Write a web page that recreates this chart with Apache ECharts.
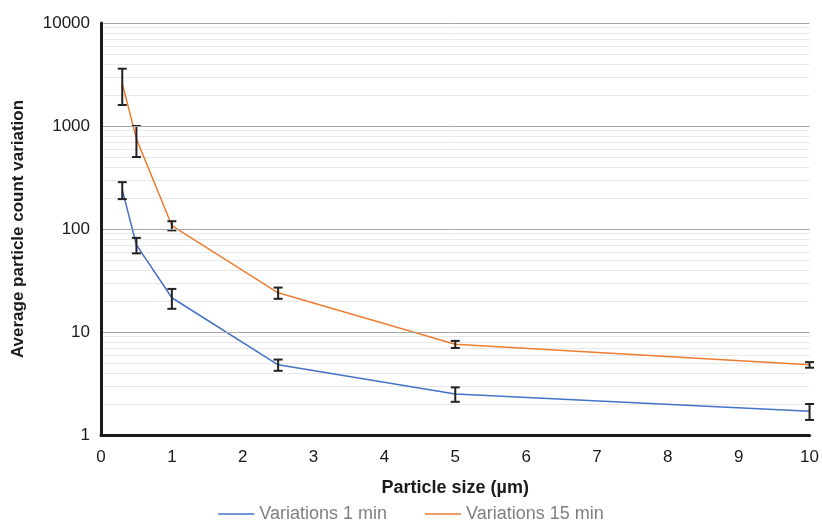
<!DOCTYPE html>
<html>
<head>
<meta charset="utf-8">
<script src="https://cdn.jsdelivr.net/npm/echarts@6/dist/echarts.min.js"></script>
<style>
  html, body { margin: 0; padding: 0; background: #fff; }
</style>
</head>
<body>
<div id="box" style="width: 822px; height: 522px;"></div>
<script>
// particle sizes (µm)
var sizes = [0.3, 0.5, 1, 2.5, 5, 10];
// mean variation and error (±)
var var1min = [240, 70, 21.5, 4.8, 2.5, 1.7];
var err1min = [45, 12, 4.7, 0.6, 0.4, 0.3];
var var15min = [2600, 750, 108, 24, 7.6, 4.8];
var err15min = [1000, 250, 11, 3, 0.6, 0.3];
var yTicks = [1, 10, 100, 1000, 10000];
// minor grid positions on the log axis
var minorLines = [];
[1, 10, 100, 1000].forEach(function (d) {
  for (var k = 2; k <= 9; k++) minorLines.push(d * k);
});

function pairs(xs, ys) {
  return xs.map(function (x, i) { return [x, ys[i]]; });
}
function errData(xs, ys, es) {
  return xs.map(function (x, i) { return [x, ys[i] - es[i], ys[i] + es[i]]; });
}

function renderErr(params, api) {
  var x = api.value(0);
  var lo = api.coord([x, api.value(1)]);
  var hi = api.coord([x, api.value(2)]);
  var hw = 4.5;
  var style = { stroke: '#222', lineWidth: 2 };
  return {
    type: 'group',
    children: [
      { type: 'line', shape: { x1: hi[0], y1: hi[1], x2: lo[0], y2: lo[1] }, style: style },
      { type: 'line', shape: { x1: hi[0] - hw, y1: hi[1], x2: hi[0] + hw, y2: hi[1] }, style: style },
      { type: 'line', shape: { x1: lo[0] - hw, y1: lo[1], x2: lo[0] + hw, y2: lo[1] }, style: style }
    ]
  };
}

var myChart = echarts.init(document.getElementById('box'));
var option = {
  animation: false,
  textStyle: { fontFamily: 'Liberation Sans, Arial, sans-serif' },
  grid: { left: 101, right: 12, top: 23, bottom: 87 },
  legend: {
    bottom: -6,
    left: 'center',
    icon: 'rect',
    itemWidth: 36,
    itemHeight: 1.5,
    itemGap: 38,
    textStyle: { color: '#7f7f7f', fontSize: 18 },
    data: ['Variations 1 min', 'Variations 15 min']
  },
  xAxis: {
    type: 'value',
    min: 0,
    max: 10,
    interval: 1,
    z: 5,
    name: 'Particle size (µm)',
    nameLocation: 'middle',
    nameGap: 44,
    nameTextStyle: { fontWeight: 'bold', fontSize: 18, color: '#1a1a1a' },
    axisLine: { lineStyle: { color: '#1a1a1a', width: 3 } },
    axisTick: { show: false },
    axisLabel: { color: '#1a1a1a', fontSize: 17, margin: 14 },
    splitLine: { show: false }
  },
  yAxis: {
    type: 'log',
    logBase: 10,
    min: 1,
    max: 10000,
    z: 5,
    name: 'Average particle count variation',
    nameLocation: 'middle',
    nameGap: 74,
    nameTextStyle: { fontWeight: 'bold', fontSize: 17, color: '#1a1a1a' },
    axisLine: { show: true, lineStyle: { color: '#1a1a1a', width: 3 } },
    axisTick: { show: false },
    minorTick: { show: false },
    axisLabel: {
      color: '#1a1a1a', fontSize: 17, margin: 11,
      formatter: function (v) { return yTicks.indexOf(Math.round(v)) >= 0 ? String(Math.round(v)) : ''; }
    },
    splitLine: { lineStyle: { color: '#a6a6a6', width: 1 } }
  },
  series: [
    {
      name: 'minor',
      type: 'line',
      data: [],
      silent: true,
      z: 0,
      markLine: {
        silent: true,
        symbol: 'none',
        z: 0,
        label: { show: false },
        lineStyle: { color: '#e8e8e8', width: 1, type: 'solid' },
        data: minorLines.map(function (v) { return { yAxis: v }; })
      }
    },
    {
      name: 'Variations 1 min',
      type: 'line',
      data: pairs(sizes, var1min),
      symbol: 'none',
      color: '#4472c4',
      lineStyle: { width: 1.5 },
      z: 3
    },
    {
      name: 'Variations 15 min',
      type: 'line',
      data: pairs(sizes, var15min),
      symbol: 'none',
      color: '#ed7d31',
      lineStyle: { width: 1.5 },
      z: 3
    },
    {
      name: 'err1',
      type: 'custom',
      renderItem: renderErr,
      data: errData(sizes, var1min, err1min),
      z: 4
    },
    {
      name: 'err15',
      type: 'custom',
      renderItem: renderErr,
      data: errData(sizes, var15min, err15min),
      z: 4
    }
  ]
};
myChart.setOption(option);
</script>
</body>
</html>
